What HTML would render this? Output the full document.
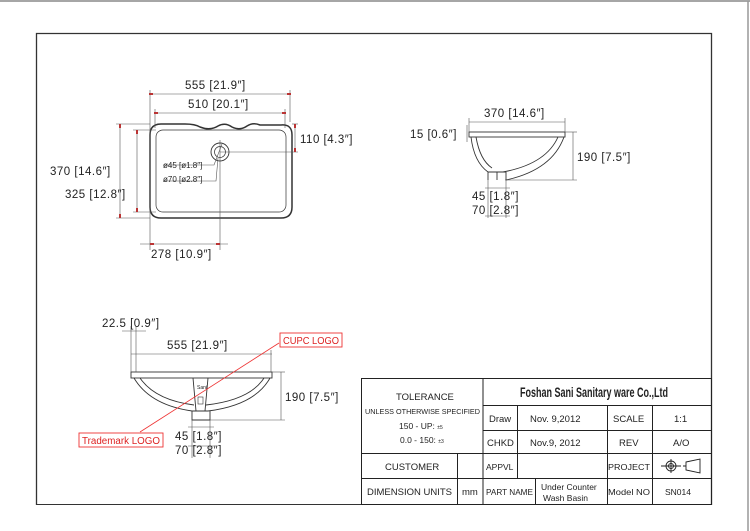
<!DOCTYPE html>
<html><head><meta charset="utf-8"><style>
html,body{margin:0;padding:0;background:#fff;}
svg{display:block;}
text{font-family:"Liberation Sans",sans-serif;fill:#222;}
.d{font-size:11.5px;letter-spacing:0.5px;}
.t{font-size:9.5px;}
</style></head><body>
<svg width="750" height="531" viewBox="0 0 750 531" xmlns="http://www.w3.org/2000/svg">
<rect width="750" height="531" fill="#fff"/>
<line x1="0" y1="1" x2="750" y2="1" stroke="#888" stroke-width="1.5"/>
<line x1="748" y1="1" x2="748" y2="531" stroke="#999" stroke-width="1.5"/>
<path d="M36.5 505 V33.5 H711.5 V505" fill="none" stroke="#333" stroke-width="1.3"/>
<line x1="36" y1="504.5" x2="361" y2="504.5" stroke="#333" stroke-width="1"/>

<!-- TOP VIEW -->
<g fill="none" stroke="#333">
<path d="M150 135 Q150 124 161 124 H185 Q195 124 200 127 Q210 131 218 126 Q225 122 232 127 Q240 131 247 126 Q253 122 260 125 H281 Q292 124 292 135 V207 Q292 218 281 218 H161 Q150 218 150 207 Z" stroke-width="1.5"/>
<rect x="156" y="130" width="130" height="82" rx="7" stroke-width="0.7"/>
<circle cx="220" cy="152" r="9" stroke-width="0.9"/>
<circle cx="220" cy="152" r="5.5" stroke-width="0.7"/>
</g>
<g stroke="#555" stroke-width="0.6" fill="none">
<line x1="150" y1="90" x2="150" y2="250"/><line x1="290" y1="90" x2="290" y2="122"/>
<line x1="150" y1="94" x2="290" y2="94"/>
<line x1="155" y1="109" x2="155" y2="128"/><line x1="285" y1="109" x2="285" y2="128"/>
<line x1="155" y1="113" x2="285" y2="113"/>
<line x1="116" y1="124" x2="150" y2="124"/><line x1="116" y1="218" x2="150" y2="218"/>
<line x1="120" y1="124" x2="120" y2="218"/>
<line x1="133" y1="130" x2="156" y2="130"/><line x1="133" y1="212" x2="156" y2="212"/>
<line x1="137" y1="130" x2="137" y2="212"/>
<line x1="292" y1="124" x2="298" y2="124"/><line x1="220" y1="152" x2="298" y2="152"/>
<line x1="295" y1="124" x2="295" y2="152"/>
<line x1="220" y1="140" x2="220" y2="250"/>
<line x1="140" y1="244" x2="228" y2="244"/>
<polyline points="163,165 214,165 222,144"/>
<polyline points="163,181 216,181 218,158"/>
</g>
<g fill="#b33" stroke="none">
<rect x="149" y="93" width="4" height="2"/><rect x="287" y="93" width="4" height="2"/>
<rect x="154" y="112" width="4" height="2"/><rect x="282" y="112" width="4" height="2"/>
<rect x="119" y="124" width="2" height="4"/><rect x="119" y="214" width="2" height="4"/>
<rect x="136" y="130" width="2" height="4"/><rect x="136" y="208" width="2" height="4"/>
<rect x="294" y="124" width="2" height="4"/><rect x="294" y="148" width="2" height="4"/>
<rect x="150" y="243" width="4" height="2"/><rect x="216" y="243" width="4" height="2"/>
</g>
<text class="d" x="185" y="89">555 [21.9″]</text>
<text class="d" x="188" y="108">510 [20.1″]</text>
<text class="d" x="50" y="175">370 [14.6″]</text>
<text class="d" x="65" y="198">325 [12.8″]</text>
<text class="d" x="300" y="143">110 [4.3″]</text>
<text x="163" y="168" style="font-size:8px">ø45 [ø1.8″]</text>
<text x="163" y="182" style="font-size:8px">ø70 [ø2.8″]</text>
<text class="d" x="151" y="258">278 [10.9″]</text>

<!-- SIDE VIEW -->
<g fill="none" stroke="#333" stroke-width="0.9">
<rect x="469" y="132" width="96" height="5"/>
<path d="M471 137 Q474 162 488 172"/>
<path d="M476 137 Q480 160 492 168"/>
<path d="M564 137 Q552 170 506 180"/>
<path d="M558 137 Q546 164 503 172"/>
<path d="M488 172 V180 M506 172 V180 M488 172 H506 M497 172 V180"/>
</g>
<g stroke="#555" stroke-width="0.6" fill="none">
<line x1="469" y1="118" x2="469" y2="132"/><line x1="565" y1="118" x2="565" y2="132"/>
<line x1="469" y1="122" x2="565" y2="122"/>
<line x1="467" y1="125" x2="467" y2="142"/>
<line x1="565" y1="132" x2="577" y2="132"/><line x1="505" y1="180" x2="577" y2="180"/>
<line x1="573" y1="132" x2="573" y2="180"/>
<line x1="488" y1="180" x2="488" y2="218"/><line x1="506" y1="180" x2="506" y2="218"/>
<line x1="485" y1="188" x2="510" y2="188"/>
<line x1="485" y1="216" x2="510" y2="216"/>
</g>
<text class="d" x="484" y="117">370 [14.6″]</text>
<text class="d" x="410" y="138">15 [0.6″]</text>
<text class="d" x="577" y="161">190 [7.5″]</text>
<text class="d" x="472" y="200">45 [1.8″]</text>
<text class="d" x="472" y="214">70 [2.8″]</text>

<!-- FRONT VIEW -->
<g fill="none" stroke="#333" stroke-width="0.9">
<rect x="131" y="372" width="141" height="6"/>
<path d="M134 378 Q150 405 192 411 H208 Q255 405 270 378"/>
<path d="M140 378 Q155 400 194 405 M206 405 Q250 400 264 378"/>
<path d="M193 378 L196 411 M208 378 L205 411"/>
<path d="M192 411 V420 H210 V411"/>
</g>
<text x="197" y="389" style="font-size:5px">Sani</text>
<rect x="198" y="397" width="5" height="7" fill="none" stroke="#333" stroke-width="0.6"/>
<g stroke="#555" stroke-width="0.6" fill="none">
<line x1="131" y1="326" x2="131" y2="372"/><line x1="136" y1="326" x2="136" y2="372"/>
<line x1="122" y1="331" x2="146" y2="331"/>
<line x1="131" y1="354" x2="272" y2="354"/><line x1="271" y1="350" x2="271" y2="372"/>
<line x1="272" y1="372" x2="285" y2="372"/><line x1="210" y1="420" x2="285" y2="420"/>
<line x1="281" y1="372" x2="281" y2="420"/>
<line x1="192" y1="420" x2="192" y2="458"/><line x1="210" y1="420" x2="210" y2="458"/>
<line x1="188" y1="427" x2="214" y2="427"/>
<line x1="188" y1="446" x2="214" y2="446"/>
</g>
<text class="d" x="102" y="327">22.5 [0.9″]</text>
<text class="d" x="167" y="349">555 [21.9″]</text>
<text class="d" x="285" y="401">190 [7.5″]</text>
<text class="d" x="175" y="440">45 [1.8″]</text>
<text class="d" x="175" y="454">70 [2.8″]</text>
<line x1="279" y1="343" x2="140" y2="432" stroke="#e33" stroke-width="0.8"/>
<rect x="280" y="333" width="62" height="14" fill="#fff" stroke="#e33" stroke-width="0.9"/>
<text x="283" y="344" style="font-size:10px;fill:#d22" textLength="56" lengthAdjust="spacingAndGlyphs">CUPC LOGO</text>
<rect x="79" y="433" width="84" height="14" fill="#fff" stroke="#e33" stroke-width="0.9"/>
<text x="82" y="444" style="font-size:10px;fill:#d22" textLength="78" lengthAdjust="spacingAndGlyphs">Trademark LOGO</text>

<!-- TITLE BLOCK -->
<g stroke="#222" stroke-width="1" fill="none">
<rect x="361.5" y="378.5" width="350" height="126"/>
<line x1="483" y1="378" x2="483" y2="504"/>
<line x1="483" y1="405.5" x2="712" y2="405.5"/>
<line x1="483" y1="430.5" x2="712" y2="430.5"/>
<line x1="361" y1="453.5" x2="712" y2="453.5"/>
<line x1="361" y1="478.5" x2="712" y2="478.5"/>
<line x1="517.5" y1="405" x2="517.5" y2="478"/>
<line x1="607.5" y1="405" x2="607.5" y2="504"/>
<line x1="652.5" y1="405" x2="652.5" y2="478"/>
<line x1="652.5" y1="478" x2="652.5" y2="504"/>
<line x1="457.5" y1="453" x2="457.5" y2="504"/>
<line x1="535.5" y1="478" x2="535.5" y2="504"/>
</g>
<text class="t" x="396" y="400">TOLERANCE</text>
<text x="365" y="414" style="font-size:7.3px" textLength="115" lengthAdjust="spacingAndGlyphs">UNLESS OTHERWISE SPECIFIED</text>
<text x="399" y="429" style="font-size:8.5px">150 - UP: <tspan style="font-size:5px">±5</tspan></text>
<text x="400" y="443" style="font-size:8.5px">0.0 - 150: <tspan style="font-size:5px">±3</tspan></text>
<text class="t" x="385" y="470">CUSTOMER</text>
<text class="t" x="367" y="495">DIMENSION UNITS</text>
<text class="t" x="462" y="495">mm</text>
<text x="520" y="397" style="font-size:13.5px;font-weight:bold" textLength="148" lengthAdjust="spacingAndGlyphs">Foshan Sani Sanitary ware Co.,Ltd</text>
<text class="t" x="489" y="422">Draw</text>
<text class="t" x="530" y="422">Nov. 9,2012</text>
<text class="t" x="613" y="422">SCALE</text>
<text class="t" x="674" y="422">1:1</text>
<text class="t" x="487" y="446">CHKD</text>
<text class="t" x="530" y="446">Nov.9, 2012</text>
<text class="t" x="619" y="446">REV</text>
<text class="t" x="673" y="446">A/O</text>
<text x="486" y="470" style="font-size:8.5px">APPVL</text>
<text x="608" y="470" style="font-size:8.5px" textLength="42" lengthAdjust="spacingAndGlyphs">PROJECT</text>
<text x="486" y="495" style="font-size:8.5px" textLength="47" lengthAdjust="spacingAndGlyphs">PART NAME</text>
<text x="541" y="490" style="font-size:8.5px">Under Counter</text>
<text x="543" y="501" style="font-size:8.5px">Wash Basin</text>
<text x="608" y="495" style="font-size:8.5px" textLength="42" lengthAdjust="spacingAndGlyphs">Model NO</text>
<text x="665" y="495" style="font-size:8.5px">SN014</text>
<g stroke="#222" stroke-width="0.9" fill="none">
<circle cx="671" cy="466" r="5"/><circle cx="671" cy="466" r="2.5"/>
<line x1="661" y1="466" x2="681" y2="466"/><line x1="671" y1="459" x2="671" y2="473"/>
<path d="M683 466 H686 M686 462 L700 459 V473 L686 470 Z"/>
</g>
</svg>
</body></html>
